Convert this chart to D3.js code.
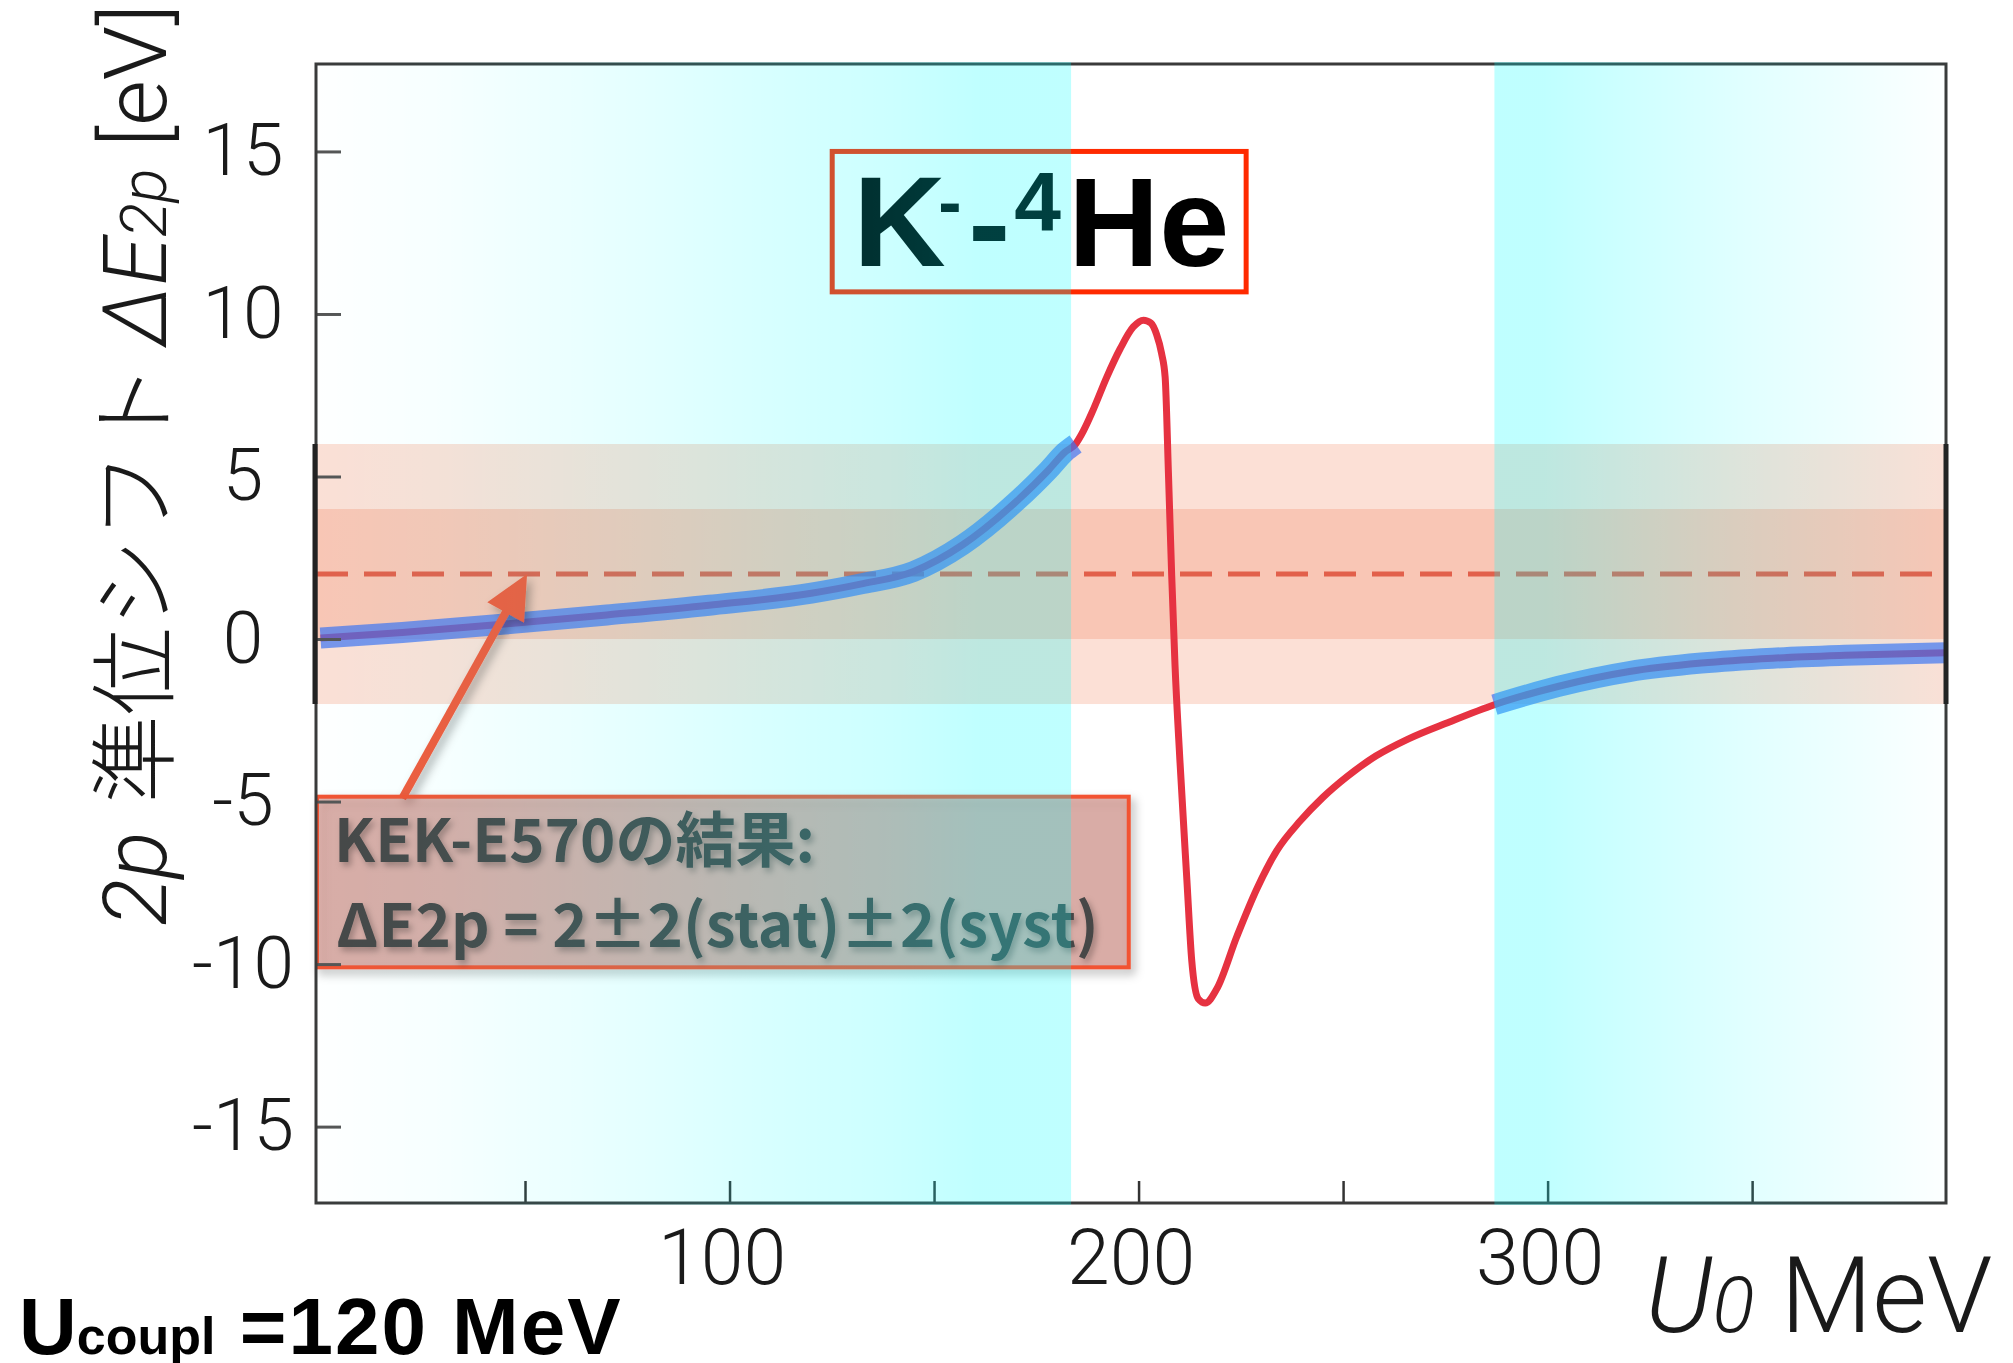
<!DOCTYPE html>
<html>
<head>
<meta charset="utf-8">
<script src="https://cdn.jsdelivr.net/npm/d3@7"></script>
<style>
  body { margin: 0; background: #fff; }
  svg { display: block; }
</style>
</head>
<body>
<div id="chart_area"></div>
<script>

// ---- data ----
var u0Values    = [0, 20, 45, 70, 95, 120, 132, 145, 157, 170, 178, 182, 184.6,
                   186.5, 188.9, 192.2, 195.5, 198.7, 201.2, 203, 204.4, 205.6, 206.5,
                   207.3, 208.1, 208.9, 210.1, 211.8, 213, 214.6, 216.3, 219.1, 224,
                   228.9, 233.8, 239.5, 245, 251, 258, 266, 276, 287,
                   302.5, 320, 337.6, 355, 372.7, 397.4];
var shiftValues = [0.03, 0.2, 0.46, 0.74, 1.04, 1.41, 1.69, 2.08, 2.9, 4.22, 5.2, 5.75, 6.0,
                   6.4, 7.05, 8.05, 8.93, 9.6, 9.81, 9.72, 9.37, 8.8, 8.05,
                   5.11, 1.95, -0.77, -3.72, -7.39, -9.89, -11.07, -11.2, -10.77, -9.16,
                   -7.69, -6.51, -5.6, -4.88, -4.23, -3.6, -3.07, -2.55, -2.02,
                   -1.46, -1.0, -0.74, -0.59, -0.5, -0.42];

// measured value: 2 +- 2(stat) +- 2(syst)
var kekValue = 2, kekStat = 2, kekSyst = 2;

// U0 ranges compatible with the measurement (highlighted)
var allowedRanges = [[-1.1, 184.6], [287, 397.4]];

var xTicks = [50, 100, 150, 200, 250, 300, 350];
var xTickLabels = [100, 200, 300];
var yTicks = [-15, -10, -5, 0, 5, 10, 15];

var xDomain = [-1.1, 397.4];
var yDomain = [-17.35, 17.69];

// ---- frame ----
var width = 2013, height = 1363;
var margin = {top: 64, right: 67, bottom: 160, left: 316};

var svg = d3.select("#chart_area").append("svg")
    .attr("width", width)
    .attr("height", height);

var x = d3.scaleLinear().domain(xDomain).range([margin.left, width - margin.right]);
var y = d3.scaleLinear().domain(yDomain).range([height - margin.bottom, margin.top]);

var defs = svg.append("defs");

// cyan highlight gradients (pure cyan, fading opacity)
function addGradient(id, stops) {
  var g = defs.append("linearGradient").attr("id", id);
  stops.forEach(function(s) {
    g.append("stop").attr("offset", s[0]).attr("stop-color", "#00ffff").attr("stop-opacity", s[1]);
  });
}
addGradient("cyanLeft", [[0, 0.005], [0.17, 0.035], [0.41, 0.1], [0.59, 0.155], [0.76, 0.2], [0.88, 0.25], [1, 0.25]]);
addGradient("cyanRight", [[0, 0.25], [0.11, 0.25], [0.3, 0.19], [0.55, 0.12], [0.8, 0.06], [1, 0.01]]);

// shadows
var sh = defs.append("filter").attr("id", "shadow")
    .attr("x", "-20%").attr("y", "-20%").attr("width", "140%").attr("height", "140%");
sh.append("feDropShadow").attr("dx", 4).attr("dy", 5).attr("stdDeviation", 5)
    .attr("flood-color", "#000").attr("flood-opacity", 0.3);

var tsh = defs.append("filter").attr("id", "textShadow")
    .attr("x", "-5%").attr("y", "-20%").attr("width", "110%").attr("height", "140%");
tsh.append("feDropShadow").attr("dx", 3).attr("dy", 4).attr("stdDeviation", 3)
    .attr("flood-color", "#000").attr("flood-opacity", 0.28);

var plotLeft = x(xDomain[0]), plotRight = x(xDomain[1]);

// ---- error bands ----
svg.append("rect")
    .attr("x", plotLeft).attr("width", plotRight - plotLeft)
    .attr("y", y(kekValue + kekStat + kekSyst))
    .attr("height", y(kekValue - kekStat - kekSyst) - y(kekValue + kekStat + kekSyst))
    .attr("fill", "#fce0d6");

svg.append("rect")
    .attr("x", plotLeft).attr("width", plotRight - plotLeft)
    .attr("y", y(kekValue + kekStat))
    .attr("height", y(kekValue - kekStat) - y(kekValue + kekStat))
    .attr("fill", "#f9c6b5");

svg.append("line")
    .attr("x1", plotLeft).attr("x2", plotRight)
    .attr("y1", y(kekValue)).attr("y2", y(kekValue))
    .attr("stroke", "#e2604b").attr("stroke-width", 5)
    .attr("stroke-dasharray", "32,16");

// ---- curve ----
var points = u0Values.map(function(d, i) { return [d, shiftValues[i]]; });

var line = d3.line()
    .x(function(d) { return x(d[0]); })
    .y(function(d) { return y(d[1]); })
    .curve(d3.curveMonotoneX);

svg.append("path")
    .datum(points)
    .attr("d", line)
    .attr("fill", "none")
    .attr("stroke", "#e63241")
    .attr("stroke-width", 7)
    .attr("stroke-linejoin", "round");

allowedRanges.forEach(function(r) {
  var seg = points.filter(function(p) { return p[0] >= r[0] && p[0] <= r[1]; });
  svg.append("path")
      .datum(seg)
      .attr("d", line)
      .attr("fill", "none")
      .attr("stroke", "rgb(62,115,242)")
      .attr("stroke-opacity", 0.7)
      .attr("stroke-width", 21)
      .attr("stroke-linecap", "butt");
});

// ---- annotation arrow ----
var arrowFrom = [x(20), y(-4.9)];
var arrowTo = [x(50.5), y(kekValue)];
var dx = arrowTo[0] - arrowFrom[0], dy = arrowTo[1] - arrowFrom[1];
var len = Math.sqrt(dx * dx + dy * dy);
var ux = dx / len, uy = dy / len;
var headLen = 44, headHalf = 21;
var base = [arrowTo[0] - ux * headLen, arrowTo[1] - uy * headLen];

var arrow = svg.append("g").attr("filter", "url(#shadow)");
arrow.append("line")
    .attr("x1", arrowFrom[0]).attr("y1", arrowFrom[1])
    .attr("x2", base[0] + ux * 4).attr("y2", base[1] + uy * 4)
    .attr("stroke", "#f15a3b").attr("stroke-width", 8);
arrow.append("polygon")
    .attr("points", [
      arrowTo,
      [base[0] - uy * headHalf, base[1] + ux * headHalf],
      [base[0] + uy * headHalf, base[1] - ux * headHalf]
    ].map(function(p) { return p.join(","); }).join(" "))
    .attr("fill", "#f15a3b");

// ---- annotation box ----
var boxTop = y(-4.85), boxBottom = y(-10.1), boxRight = x(197.6);
svg.append("rect")
    .attr("x", plotLeft + 1).attr("y", boxTop)
    .attr("width", boxRight - plotLeft - 1).attr("height", boxBottom - boxTop)
    .attr("fill", "rgba(190,95,80,0.42)")
    .attr("stroke", "#f25233").attr("stroke-width", 4)
    .attr("filter", "url(#shadow)");

var note = svg.append("g")
    .attr("font-family", "'Noto Sans CJK JP', 'Noto Sans', sans-serif")
    .attr("font-weight", 700)
    .attr("font-size", 60)
    .attr("fill", "#474747")
    .attr("filter", "url(#textShadow)");
note.append("text").attr("x", plotLeft + 18).attr("y", boxTop + 65).text("KEK-E570の結果:");
note.append("text").attr("x", plotLeft + 20).attr("y", boxTop + 150).text("ΔE2p = 2±2(stat)±2(syst)");

// ---- title box ----
var tL = x(125.1), tR = x(226.3), tT = y(15.0), tB = y(10.68);
svg.append("rect")
    .attr("x", tL).attr("y", tT).attr("width", tR - tL).attr("height", tB - tT)
    .attr("fill", "none").attr("stroke", "#ff2a00").attr("stroke-width", 5);

var title = svg.append("text")
    .attr("font-family", "'Liberation Sans', Arial, sans-serif")
    .attr("font-weight", 700)
    .attr("fill", "#000");
var tb = tB - 26;
title.append("tspan").attr("x", tL + 21).attr("y", tb).attr("font-size", 128).text("K");
title.append("tspan").attr("x", tL + 106).attr("y", tb - 40).attr("font-size", 70).text("-");
title.append("tspan").attr("x", tL + 136).attr("y", tb).attr("font-size", 126).text("-");
title.append("tspan").attr("x", tL + 182).attr("y", tb - 35).attr("font-size", 84).text("4");
title.append("tspan").attr("x", tL + 236).attr("y", tb).attr("font-size", 126).text("He");

// ---- axes ----
var xAxis = d3.axisBottom(x)
    .tickValues(xTicks)
    .tickSizeInner(-22)
    .tickSizeOuter(0)
    .tickPadding(26)
    .tickFormat(function(d) { return xTickLabels.indexOf(d) >= 0 ? d : ""; });

var gx = svg.append("g")
    .attr("transform", "translate(0," + (height - margin.bottom) + ")")
    .call(xAxis);
gx.select(".domain").remove();
gx.selectAll(".tick line").attr("stroke", "#333").attr("stroke-width", 2.5);
gx.selectAll(".tick text")
    .attr("font-family", "Roboto, 'Liberation Sans', sans-serif")
    .attr("font-weight", 300)
    .attr("font-size", 77)
    .attr("fill", "#1a1a1a")
    .attr("dx", -8);

var yAxis = d3.axisLeft(y)
    .tickValues(yTicks)
    .tickSizeInner(-25)
    .tickSizeOuter(0)
    .tickFormat(function(d) { return String(d); });

var gy = svg.append("g")
    .attr("transform", "translate(" + margin.left + ",0)")
    .call(yAxis);
gy.select(".domain").remove();
gy.selectAll(".tick line").attr("stroke", "#555").attr("stroke-width", 3);
gy.selectAll(".tick text")
    .attr("x", -73)
    .attr("text-anchor", "middle")
    .attr("font-family", "Roboto, 'Liberation Sans', sans-serif")
    .attr("font-weight", 300)
    .attr("font-size", 73)
    .attr("fill", "#1a1a1a");

// plot frame
svg.append("rect")
    .attr("x", plotLeft).attr("y", margin.top)
    .attr("width", plotRight - plotLeft).attr("height", height - margin.bottom - margin.top)
    .attr("fill", "none").attr("stroke", "#3a3a3a").attr("stroke-width", 3);

// darker edges of the error band
[plotLeft - 1, plotRight].forEach(function(px) {
  svg.append("line")
      .attr("x1", px).attr("x2", px)
      .attr("y1", y(kekValue + kekStat + kekSyst)).attr("y2", y(kekValue - kekStat - kekSyst))
      .attr("stroke", "#222").attr("stroke-width", 5);
});

// ---- cyan highlight of the allowed U0 ranges (on top) ----
svg.append("rect")
    .attr("x", x(allowedRanges[0][0])).attr("width", x(183.5) - x(allowedRanges[0][0]))
    .attr("y", margin.top - 2).attr("height", height - margin.bottom - margin.top + 4)
    .attr("fill", "url(#cyanLeft)");
svg.append("rect")
    .attr("x", x(allowedRanges[1][0])).attr("width", x(allowedRanges[1][1]) - x(allowedRanges[1][0]) + 2)
    .attr("y", margin.top - 2).attr("height", height - margin.bottom - margin.top + 4)
    .attr("fill", "url(#cyanRight)");

// ---- axis titles ----
var yTitle = svg.append("text")
    .attr("transform", "translate(166,926) rotate(-90)")
    .attr("font-family", "Roboto, 'Liberation Sans', sans-serif")
    .attr("font-weight", 300)
    .attr("font-size", 88)
    .attr("fill", "#1a1a1a");
yTitle.append("tspan").attr("font-style", "italic").text("2p");
yTitle.append("tspan").attr("dx", 28)
    .attr("font-family", "'Noto Sans CJK JP', sans-serif").text("準位シフト");
yTitle.append("tspan").attr("dx", 18).attr("font-style", "italic").text("ΔE");
yTitle.append("tspan").attr("font-style", "italic").attr("font-size", 64).text("2p");
yTitle.append("tspan").text(" [eV]");

var xTitle = svg.append("text")
    .attr("x", 1645).attr("y", 1332)
    .attr("font-family", "Roboto, 'Liberation Sans', sans-serif")
    .attr("font-weight", 300)
    .attr("font-size", 106)
    .attr("fill", "#1a1a1a");
xTitle.append("tspan").attr("font-style", "italic").text("U");
xTitle.append("tspan").attr("font-style", "italic").attr("font-size", 78).text("0");
xTitle.append("tspan").text(" MeV");

var coupl = svg.append("text")
    .attr("x", 19).attr("y", 1354)
    .attr("font-family", "'Liberation Sans', Arial, sans-serif")
    .attr("font-weight", 700)
    .attr("font-size", 80)
    .attr("fill", "#000");
coupl.append("tspan").text("U");
coupl.append("tspan").attr("font-size", 52).text("coupl");
coupl.append("tspan").attr("letter-spacing", 2).text(" =120 MeV");

</script>
</body>
</html>
